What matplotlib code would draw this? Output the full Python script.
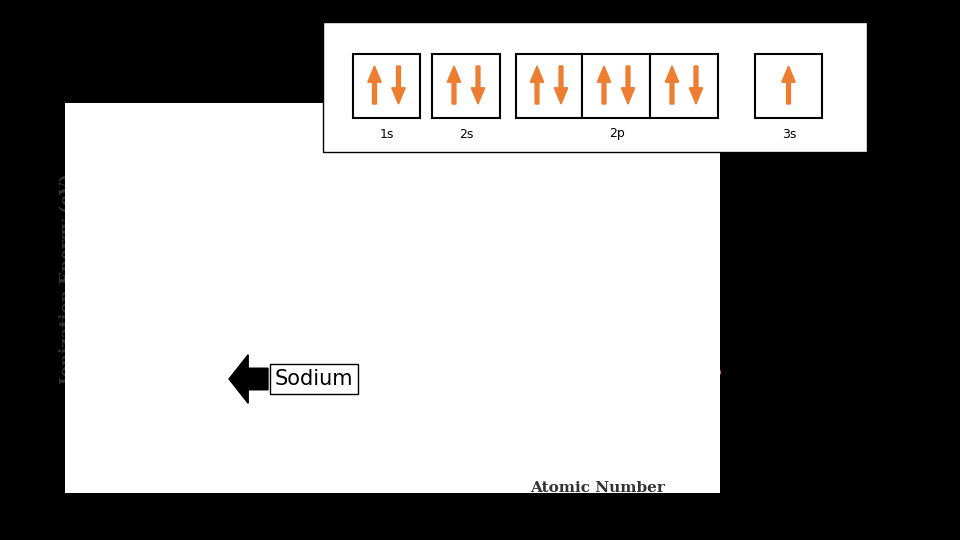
import matplotlib
matplotlib.use("Agg")
import matplotlib.pyplot as plt
from matplotlib.patches import Rectangle, FancyArrow

atomic_number = list(range(1, 65))
ionization_ev = [13.6, 24.6, 5.4, 9.3, 8.3, 11.3, 14.5, 13.6, 17.4, 21.6,
                 5.1, 7.6, 6.0, 8.2, 10.5, 10.4, 13.0, 15.8, 4.3, 6.1,
                 6.6, 6.8, 6.7, 6.8, 7.4, 7.9, 7.9, 7.6, 7.7, 9.4,
                 6.0, 7.9, 9.8, 9.8, 11.8, 14.0, 4.2, 5.7, 6.2, 6.6,
                 6.8, 7.1, 7.3, 7.4, 7.5, 8.3, 7.6, 9.0, 5.8, 7.3,
                 8.6, 9.0, 10.5, 12.1, 3.9, 5.2, 5.6, 5.5, 5.5, 5.5,
                 5.6, 5.6, 5.7, 5.7]
noble_labels = {2: "Helium", 10: "Neon", 18: "Argon", 36: "Krypton", 54: "Xenon"}
orbital_labels = ["1s", "2s", "2p", "3s"]

W, H = 960, 540
fig = plt.figure(figsize=(9.6, 5.4), dpi=100, facecolor="black")

def fx(px): return px / W
def fy(py): return 1 - py / H

# white chart background
fig.patches.append(Rectangle((fx(65), fy(493)), fx(720) - fx(65), fy(103) - fy(493),
                             transform=fig.transFigure, facecolor="white", edgecolor="none", zorder=0))

ax = fig.add_axes([fx(128), fy(455), fx(720) - fx(128), fy(103) - fy(455)])
ax.set_facecolor("white")
c = "#c8693a"
ax.plot(atomic_number, ionization_ev, color=c, lw=2, marker="P", ms=5, mec=c, mfc=c)
for z, name in noble_labels.items():
    ax.text(z + 1, ionization_ev[z - 1], name, fontsize=11, family="DejaVu Serif",
            fontweight="bold", color="#333333", va="center")
ax.set_xlim(0, 63.8)
ax.set_ylim(-0.45, 25.67)
ax.set_xticks(range(0, 61, 10))
ax.set_yticks(range(0, 26, 5))
ax.grid(True, color="#dddddd", lw=1.5)
ax.set_axisbelow(True)
for s in ["top", "right", "bottom"]:
    ax.spines[s].set_visible(False)
ax.spines["left"].set_color("#666666")
ax.tick_params(colors="#777777", labelsize=11, length=0)
for lab in ax.get_xticklabels() + ax.get_yticklabels():
    lab.set_family("DejaVu Serif")
ax.set_ylabel("Ionization Energy (eV)", family="DejaVu Serif", fontweight="bold",
              fontsize=12, color="#333333", labelpad=20)
fig.text(fx(598), fy(488), "Atomic Number", family="DejaVu Serif", fontweight="bold",
         fontsize=11, color="#333333", ha="center", va="center")

# orbital overlay
fig.patches.append(Rectangle((fx(323), fy(152)), fx(867) - fx(323), fy(22) - fy(152),
                             transform=fig.transFigure, facecolor="white", edgecolor="black", lw=1, zorder=5))
boxes = [(353, 420, 2), (432, 500, 2), (516, 582, 2), (582, 650, 2), (650, 718, 2), (755, 822, 1)]
orange = "#ed7d31"
for x0, x1, n in boxes:
    fig.patches.append(Rectangle((fx(x0), fy(118)), fx(x1) - fx(x0), fy(54) - fy(118),
                                 transform=fig.transFigure, facecolor="white", edgecolor="black", lw=1.5, zorder=6))
    xm = (x0 + x1) / 2
    xs = [xm - 12, xm + 12] if n == 2 else [xm]
    for i, xa in enumerate(xs):
        if i == 0:
            fig.patches.append(FancyArrow(fx(xa), fy(104), 0, fy(66) - fy(104), width=0.004,
                                          head_width=0.014, head_length=0.03, transform=fig.transFigure,
                                          color=orange, length_includes_head=True, zorder=7))
        else:
            fig.patches.append(FancyArrow(fx(xa), fy(66), 0, fy(104) - fy(66), width=0.004,
                                          head_width=0.014, head_length=0.03, transform=fig.transFigure,
                                          color=orange, length_includes_head=True, zorder=7))
for lab, x in zip(orbital_labels, [387, 466, 617, 789]):
    fig.text(fx(x), fy(134), lab, fontsize=9, ha="center", va="center", zorder=8)

# Sodium callout
fig.patches.append(FancyArrow(fx(268), fy(379), fx(229) - fx(268), 0, width=0.04,
                              head_width=0.09, head_length=0.02, transform=fig.transFigure,
                              color="black", length_includes_head=True, zorder=8))
fig.text(fx(314), fy(379), "Sodium", fontsize=15, ha="center", va="center", zorder=9,
         bbox=dict(boxstyle="square,pad=0.25", facecolor="white", edgecolor="black", lw=1))

fig.savefig("out.png", dpi=100, facecolor="black")
